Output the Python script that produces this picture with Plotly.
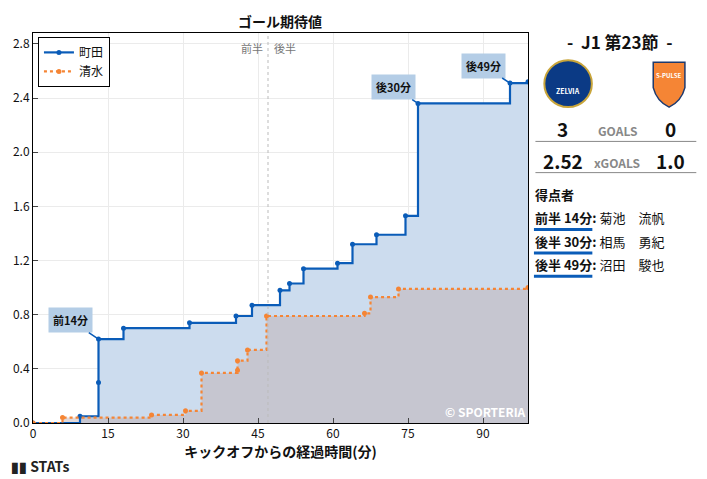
import plotly.graph_objects as go

# 町田 cumulative xG (minute, value)
machida_min = [0, 9.4, 13.1, 13.1, 18.1, 31.3, 40.6, 43.8, 49.4, 51.3, 54.1, 60.9, 63.9, 68.7, 74.5, 77.0, 95.4, 99]
machida_xg = [0, 0.05, 0.30, 0.62, 0.70, 0.74, 0.79, 0.87, 0.98, 1.03, 1.14, 1.18, 1.32, 1.39, 1.53, 2.36, 2.51, 2.52]
# 清水 cumulative xG
shimizu_min = [0, 5.9, 23.7, 30.5, 33.7, 40.9, 40.9, 42.9, 46.7, 66.3, 67.5, 73.1, 99]
shimizu_xg = [0, 0.04, 0.06, 0.09, 0.37, 0.39, 0.46, 0.54, 0.79, 0.81, 0.93, 0.99, 1.0]

goal_labels = ["前14分", "後30分", "後49分"]
goal_pos = [(13.1, 0.62), (77.0, 2.36), (95.4, 2.51)]
label_pos = [(7.4, 0.76), (72, 2.48), (90, 2.64)]

scorers = ["前半 14分", "後半 30分", "後半 49分"]
scorer_names = ["菊池　流帆", "相馬　勇紀", "沼田　駿也"]

blue = "#0a5cb8"
orange = "#f58535"
font = "Noto Sans CJK JP"

fig = go.Figure()
# fills (no legend) then lines
fig.add_trace(go.Scatter(x=machida_min, y=machida_xg, line_shape="hv", mode="none",
                         fill="tozeroy", fillcolor="rgba(204,220,238,1)", showlegend=False))
fig.add_trace(go.Scatter(x=shimizu_min, y=shimizu_xg, line_shape="hv", mode="none",
                         fill="tozeroy", fillcolor="rgba(190,170,170,0.45)", showlegend=False))
fig.add_trace(go.Scatter(x=machida_min, y=machida_xg, name="町田", line_shape="hv",
                         mode="lines+markers", line=dict(color=blue, width=2.2),
                         marker=dict(size=5, color=blue)))
fig.add_trace(go.Scatter(x=shimizu_min, y=shimizu_xg, name="清水", line_shape="hv",
                         mode="lines+markers", line=dict(color=orange, width=2.2, dash="dot"),
                         marker=dict(size=5, color=orange)))

fig.add_vline(x=47, line=dict(color="#bbbbbb", width=1, dash="dot"))
fig.add_annotation(x=47, y=2.77, text="前半　後半", showarrow=False, yanchor="middle",
                   font=dict(size=11, color="#777777", family=font))

for lab, (gx, gy), (lx, ly) in zip(goal_labels, goal_pos, label_pos):
    fig.add_annotation(x=gx, y=gy, ax=lx, ay=ly, axref="x", ayref="y", text=f"<b>{lab}</b>",
                       showarrow=True, arrowhead=0, arrowcolor=blue, arrowwidth=1.5,
                       bgcolor="#b4cde6", borderpad=4,
                       font=dict(size=11, color="#111111", family=font))

fig.add_annotation(x=99, y=0, text="<b>© SPORTERIA</b>", showarrow=False, xanchor="right",
                   yanchor="bottom", yshift=1, font=dict(size=12, color="white", family=font))

# right panel
P = dict(xref="paper", yref="paper", showarrow=False, yanchor="middle")
C = dict(P, xanchor="center")
L = dict(P, xanchor="left")
fig.add_annotation(x=1.185, y=0.977, text="<b>-  J1 第23節  -</b>", font=dict(size=17, family=font, color="#111"), **C)
fig.add_shape(type="circle", xref="paper", yref="paper", x0=1.033, x1=1.129, y0=0.81, y1=0.93,
              fillcolor="#0b3a85", line=dict(color="#c9a53a", width=2))
fig.add_annotation(x=1.081, y=0.852, text="<b>ZELVIA</b>", font=dict(size=7, color="white"), **C)
fig.add_shape(type="path", xref="paper", yref="paper",
              path="M 1.253 0.925 L 1.317 0.925 L 1.317 0.86 Q 1.31 0.825 1.285 0.81 Q 1.26 0.825 1.253 0.86 Z",
              fillcolor=orange, line=dict(color="#1e3a6e", width=1.5))
fig.add_annotation(x=1.285, y=0.89, text="<b>S-PULSE</b>", font=dict(size=6, color="white"), **C)
fig.add_annotation(x=1.07, y=0.756, text="<b>3</b>", font=dict(size=19, family=font, color="#111"), **C)
fig.add_annotation(x=1.18, y=0.75, text="<b>GOALS</b>", font=dict(size=12, family=font, color="#888"), **C)
fig.add_annotation(x=1.287, y=0.756, text="<b>0</b>", font=dict(size=19, family=font, color="#111"), **C)
fig.add_shape(type="line", xref="paper", yref="paper", x0=1.015, x1=1.34, y0=0.722, y1=0.722,
              line=dict(color="#888", width=1))
fig.add_annotation(x=1.07, y=0.674, text="<b>2.52</b>", font=dict(size=19, family=font, color="#111"), **C)
fig.add_annotation(x=1.18, y=0.668, text="<b>xGOALS</b>", font=dict(size=12, family=font, color="#888"), **C)
fig.add_annotation(x=1.287, y=0.674, text="<b>1.0</b>", font=dict(size=19, family=font, color="#111"), **C)
fig.add_shape(type="line", xref="paper", yref="paper", x0=1.015, x1=1.34, y0=0.642, y1=0.642,
              line=dict(color="#888", width=1))
fig.add_annotation(x=1.01, y=0.587, text="<b>得点者</b>",
                   font=dict(size=13, family=font, color="#111"), **L)
for i, (s, n) in enumerate(zip(scorers, scorer_names)):
    yy = 0.526 - i * 0.06
    fig.add_annotation(x=1.01, y=yy, text=f"<b>{s}:</b> {n}",
                       font=dict(size=13, family=font, color="#111"), **L)
    fig.add_shape(type="line", xref="paper", yref="paper", x0=1.012, x1=1.13, y0=yy - 0.03,
                  y1=yy - 0.03, line=dict(color=blue, width=3))

fig.add_annotation(x=-0.048, y=-0.11, text="<b>▮▮ STATs</b>",
                   font=dict(size=14, family=font, color="#222"), **L)

fig.update_layout(
    width=707, height=479,
    margin=dict(l=33, r=179, t=33, b=56),
    paper_bgcolor="white", plot_bgcolor="white",
    font=dict(family=font, color="#111"),
    title=dict(text="<b>ゴール期待値</b>", x=0.396, xanchor="center", y=0.965, font=dict(size=14)),
    showlegend=True,
    xaxis=dict(range=[0, 99], tickvals=[0, 15, 30, 45, 60, 75, 90], gridcolor="#ebebeb",
               showline=True, mirror=True, linecolor="black", ticks="inside", automargin=False,
               title=dict(text="<b>キックオフからの経過時間(分)</b>", font=dict(size=14), standoff=5),
               tickfont=dict(size=12), zeroline=False),
    yaxis=dict(range=[0, 2.88], tickvals=[0, 0.4, 0.8, 1.2, 1.6, 2.0, 2.4, 2.8], tickformat=".1f",
               gridcolor="#ebebeb", showline=True, mirror=True, linecolor="black", ticks="inside",
               automargin=False, tickfont=dict(size=12), zeroline=False),
    legend=dict(x=0.01, y=0.99, bordercolor="black", borderwidth=1, bgcolor="white",
                font=dict(size=12)),
)

fig.write_html("out.html", config={"displayModeBar": False},
               post_script="document.body.style.margin='0';")
